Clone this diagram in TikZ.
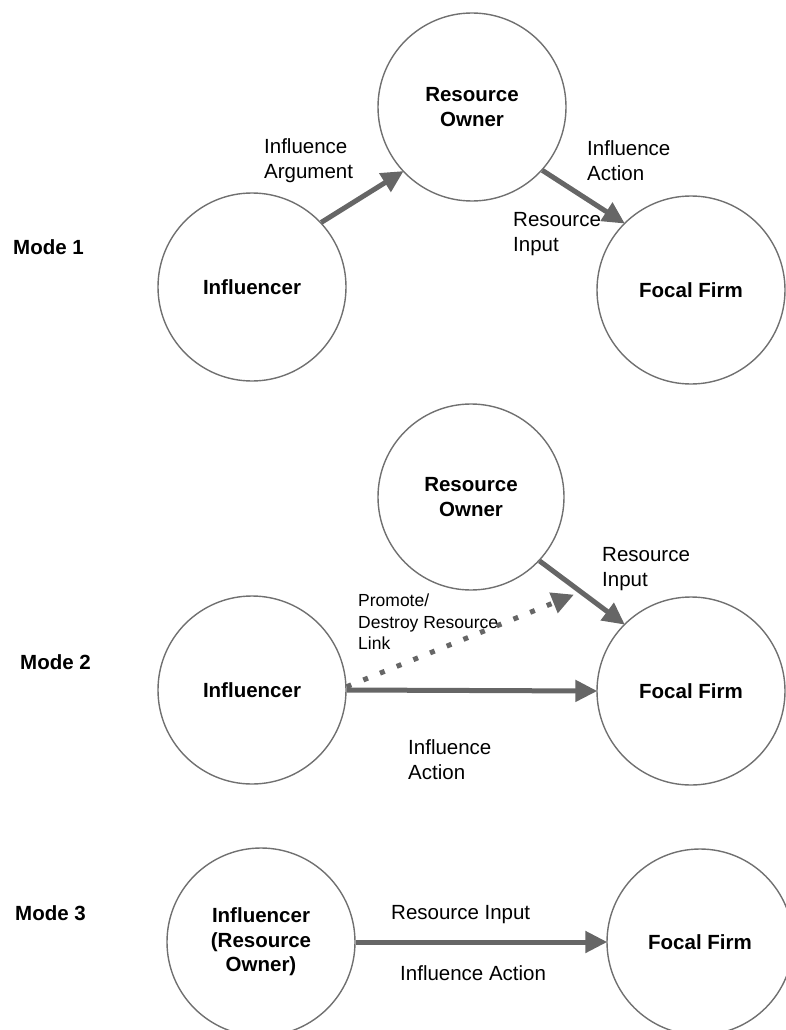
\documentclass[tikz,border=0pt]{standalone}
\usepackage{fontspec}
\setmainfont{Liberation Sans}
\usetikzlibrary{arrows.meta}
\definecolor{edgegray}{RGB}{102,102,102}
\definecolor{ringgray}{RGB}{112,112,112}
\begin{document}
\begin{tikzpicture}[x=1pt,y=-1pt,
  actor/.style={circle, draw=ringgray, line width=1.4pt, inner sep=0pt,
    minimum size=#1, align=center,
    font=\fontsize{20.5}{24.5}\selectfont\bfseries},
  actor/.default=188pt,
  lbl/.style={anchor=west, inner sep=0pt, align=left,
    font=\fontsize{20.5}{25}\selectfont},
  smalllbl/.style={anchor=west, inner sep=0pt, align=left,
    font=\fontsize{17.5}{21.5}\selectfont},
  modelbl/.style={anchor=west, inner sep=0pt,
    font=\fontsize{20.5}{25}\selectfont\bfseries},
  flow/.style={draw=edgegray, line width=5pt,
    -{Triangle[length=22pt,width=21pt]}, shorten >=-1pt},
  dotflow/.style={flow, dash pattern=on 5pt off 13pt}]
\useasboundingbox (0,0) rectangle (786,1030);

% ---------- Mode 1 ----------
\node[modelbl] (m1) at (13,247) {Mode 1};
\node[actor] (ro1) at (472,107) {Resource\\Owner};
\node[actor] (inf1) at (252,287) {Influencer};
\node[actor] (ff1) at (691,290) {Focal Firm};

\draw[flow] (inf1.43) -- (ro1.223);
\draw[flow] (ro1.318) -- (ff1.135);

\node[lbl] (arg1) at (264,161) {Influence\\Argument};
\node[lbl] (act1) at (587,161) {Influence\\Action};
\node[lbl] (inp1) at (513,234) {Resource\\Input};

% ---------- Mode 2 ----------
\node[modelbl] (m2) at (20,662) {Mode 2};
\node[actor=186pt] (ro2) at (471,497) {Resource\\Owner};
\node[actor] (inf2) at (252,690) {Influencer};
\node[actor] (ff2) at (691,691) {Focal Firm};

\coordinate (link) at (573,595);
\draw[flow] (ro2.317) -- (ff2.135);
\draw[dotflow] (inf2.2) -- (link);
\draw[flow] (inf2.east) -- (ff2.west);

\node[lbl] (inp2) at (602,569) {Resource\\Input};
\node[smalllbl] (prom) at (358,622) {Promote/\\Destroy Resource\\Link};
\node[lbl] (act2) at (408,760) {Influence\\Action};

% ---------- Mode 3 ----------
\node[modelbl] (m3) at (15,913) {Mode 3};
\node[actor] (inf3) at (261,942) {Influencer\\(Resource\\Owner)};
\node[actor=186pt] (ff3) at (700,942) {Focal Firm};

\draw[flow] (inf3.east) -- (ff3.west);

\node[lbl] (inp3) at (391,915) {Resource Input};
\node[lbl] (act3) at (400,973) {Influence Action};
\end{tikzpicture}
\end{document}
